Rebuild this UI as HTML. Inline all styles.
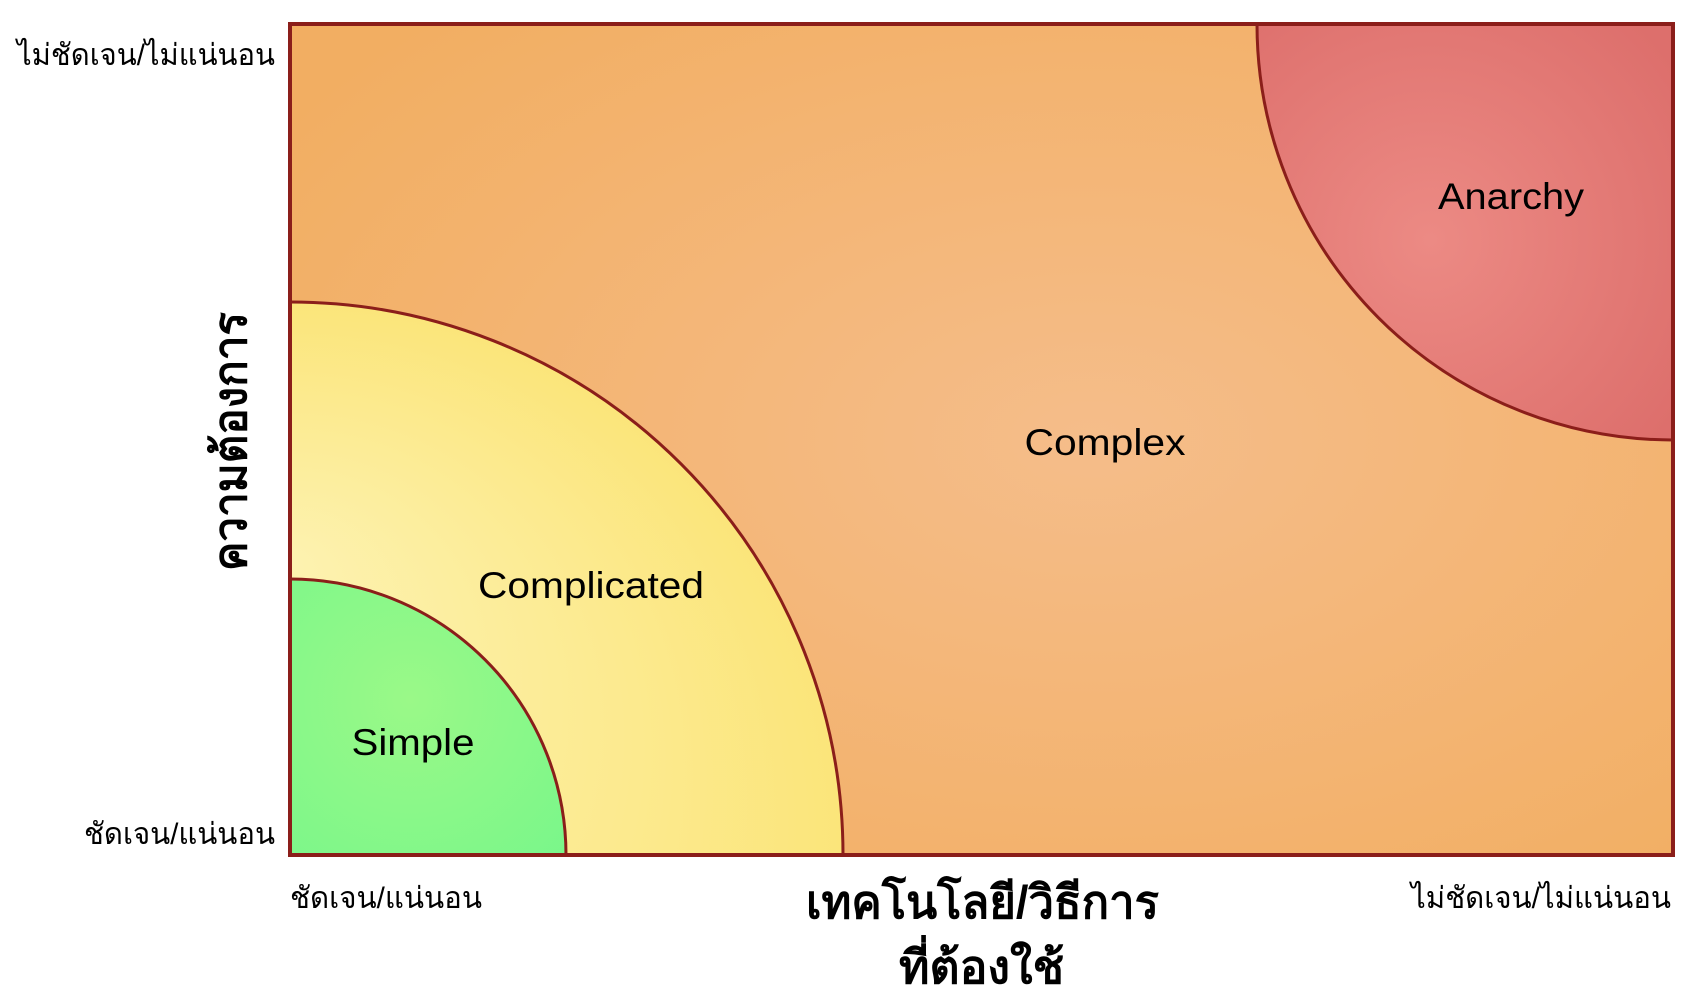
<!DOCTYPE html>
<html><head><meta charset="utf-8"><style>
html,body{margin:0;background:#fff;width:1690px;height:1002px;overflow:hidden}
svg{display:block}
svg text{font-family:"Liberation Sans","Noto Sans CJK SC",sans-serif}
</style></head><body>
<svg width="1690" height="1002" xmlns="http://www.w3.org/2000/svg">
<defs>
<radialGradient id="bg" cx="0.58" cy="0.5" r="0.7"><stop offset="0" stop-color="#f5bd8a"/><stop offset="1" stop-color="#f2ae62"/></radialGradient>
<radialGradient id="yel" cx="290" cy="855" r="553" gradientUnits="userSpaceOnUse" fx="290" fy="560"><stop offset="0" stop-color="#fdf2b0"/><stop offset="1" stop-color="#fbe57a"/></radialGradient>
<radialGradient id="grn" cx="410" cy="700" r="260" gradientUnits="userSpaceOnUse"><stop offset="0" stop-color="#9af988"/><stop offset="1" stop-color="#74f68a"/></radialGradient>
<radialGradient id="red" cx="1430" cy="240" r="300" gradientUnits="userSpaceOnUse"><stop offset="0" stop-color="#ec8a84"/><stop offset="1" stop-color="#dd6f6c"/></radialGradient>
<clipPath id="c"><rect x="290" y="24" width="1383" height="831"/></clipPath>
</defs>
<rect x="290" y="24" width="1383" height="831" fill="url(#bg)"/>
<g clip-path="url(#c)" stroke="#8b1e1a" stroke-width="3">
<circle cx="290" cy="855" r="553" fill="url(#yel)"/>
<circle cx="290" cy="855" r="276" fill="url(#grn)"/>
<circle cx="1673" cy="24" r="416" fill="url(#red)"/>
</g>
<rect x="290" y="24" width="1383" height="831" fill="none" stroke="#8b1e1a" stroke-width="4"/>
<g font-size="37" fill="#000" text-anchor="middle" lengthAdjust="spacingAndGlyphs">
<text x="1511" y="209" textLength="146" lengthAdjust="spacingAndGlyphs">Anarchy</text>
<text x="1105" y="455" textLength="161" lengthAdjust="spacingAndGlyphs">Complex</text>
<text x="591" y="598" textLength="226" lengthAdjust="spacingAndGlyphs">Complicated</text>
<text x="413" y="755" textLength="123" lengthAdjust="spacingAndGlyphs">Simple</text>
</g>
<g font-size="30" fill="#000">
<text x="17" y="65" textLength="258" lengthAdjust="spacingAndGlyphs">ไม่ชัดเจน/ไม่แน่นอน</text>
<text x="84" y="844" textLength="191" lengthAdjust="spacingAndGlyphs">ชัดเจน/แน่นอน</text>
<text x="290" y="908" textLength="192" lengthAdjust="spacingAndGlyphs">ชัดเจน/แน่นอน</text>
<text x="1411" y="908" textLength="260" lengthAdjust="spacingAndGlyphs">ไม่ชัดเจน/ไม่แน่นอน</text>
</g>
<g font-size="46" font-weight="bold" fill="#000">
<text x="806" y="918" textLength="353" lengthAdjust="spacingAndGlyphs">เทคโนโลยี/วิธีการ</text>
<text x="899" y="983" textLength="165" lengthAdjust="spacingAndGlyphs">ที่ต้องใช้</text>
<text transform="translate(246,571) rotate(-90)" textLength="259" lengthAdjust="spacingAndGlyphs">ความต้องการ</text>
</g>
</svg>
</body></html>
